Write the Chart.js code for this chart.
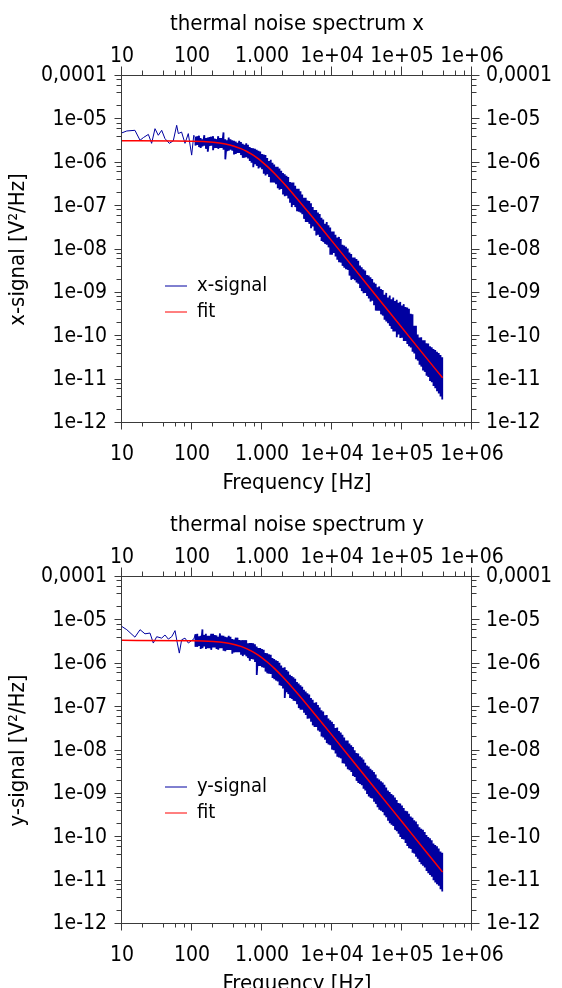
<!DOCTYPE html>
<html>
<head>
<meta charset="utf-8">
<script src="https://cdn.jsdelivr.net/npm/chart.js@4.4.1/dist/chart.umd.min.js"></script>
<style>
  html, body { margin: 0; padding: 0; background: #fff; overflow: hidden; }
  .plot { position: absolute; left: 0; width: 562px; height: 500px; }
</style>
</head>
<body>
<div class="plot" style="top:0"><canvas id="chartX" width="562" height="500"></canvas></div>
<div class="plot" style="top:501px"><canvas id="chartY" width="562" height="500"></canvas></div>
<script>
// axis ticks
const xTickValues = [10, 100, 1000, 1e4, 1e5, 1e6];
const xTickLabels = ['10', '100', '1.000', '1e+04', '1e+05', '1e+06'];
const yTickValues = [1e-12, 1e-11, 1e-10, 1e-9, 1e-8, 1e-7, 1e-6, 1e-5, 1e-4];
const yTickLabels = ['1e-12', '1e-11', '1e-10', '1e-09', '1e-08', '1e-07', '1e-06', '1e-05', '0,0001'];
const minorSteps = [2, 4, 6, 8];

// low frequency part (read point by point)
const xsigLowFreq = [10, 11.7, 15.3, 18.1, 20.2, 23.8, 26.5, 29.6, 33, 36.9, 41.1, 47.4, 54, 60.4, 63.8, 71, 79.4, 88.5, 98.9, 106];
const xsigLow = [4.9e-6, 5.4e-6, 5.6e-6, 3.3e-6, 3.8e-6, 4.5e-6, 2.8e-6, 6.1e-6, 4.3e-6, 5.6e-6, 3.6e-6, 2.8e-6, 3.2e-6, 7.3e-6, 4.7e-6, 5.1e-6, 2.8e-6, 4.7e-6, 1.5e-6, 4.3e-6];
const ysigLowFreq = [10, 11.7, 15.3, 18.1, 21.3, 25.1, 28, 31.3, 36.9, 41.1, 45.9, 51.3, 57.2, 61.7, 65.9, 71.1, 79.4, 88.7, 98.9, 106];
const ysigLow = [7.2e-6, 6.1e-6, 4.1e-6, 6.1e-6, 4.9e-6, 5.1e-6, 3.0e-6, 4.2e-6, 3.9e-6, 4.6e-6, 3.7e-6, 4.2e-6, 5.8e-6, 3.0e-6, 1.76e-6, 3.56e-6, 3.9e-6, 3.0e-6, 3.44e-6, 3.7e-6];

// dense part: max and min of the trace in each frequency bin
const bandFreq = [112, 119, 126, 133, 141, 150, 158, 168, 178, 188, 200, 211, 224, 237, 251, 266, 282, 299, 316, 335,
  355, 376, 398, 422, 447, 473, 501, 531, 562, 596, 631, 668, 708, 750, 794, 841, 891, 944,
  1000, 1059, 1122, 1189, 1259, 1334, 1413, 1496, 1585, 1679, 1778, 1884, 1995, 2113, 2239, 2371, 2512, 2661, 2818, 2985,
  3162, 3350, 3548, 3758, 3981, 4217, 4467, 4732, 5012, 5309, 5623, 5957, 6310, 6683, 7079, 7499, 7943, 8414, 8913, 9441,
  10000, 10590, 11220, 11890, 12590, 13340, 14130, 14960, 15850, 16790, 17780, 18840, 19950, 21130, 22390, 23710, 25120, 26610, 28180, 29850,
  31620, 33500, 35480, 37580, 39810, 42170, 44670, 47320, 50120, 53090, 56230, 59570, 63100, 66830, 70790, 74990, 79430, 84140, 89130, 94410,
  100000, 105900, 112200, 118900, 125900, 133400, 141300, 149600, 158500, 167900, 177800, 188400, 199500, 211300, 223900, 237100,
  251200, 266100, 281800, 298500, 316200, 335000, 354800, 375800];

const xsigHi = [3.9e-6, 4.1e-6, 4.2e-6, 3.7e-6, 3.5e-6, 4.3e-6, 3.7e-6, 3.8e-6, 3.9e-6, 4.0e-6,
  4.1e-6, 3.6e-6, 3.5e-6, 4.1e-6, 3.7e-6, 3.7e-6, 5.0e-6, 3.5e-6, 3.3e-6, 3.8e-6,
  3.5e-6, 3.3e-6, 3.2e-6, 3.1e-6, 2.9e-6, 3.2e-6, 3.0e-6, 2.75e-6, 2.6e-6, 2.8e-6,
  2.6e-6, 2.3e-6, 2.2e-6, 2.15e-6, 2.1e-6, 2.0e-6, 1.9e-6, 1.82e-6, 1.6e-6, 1.55e-6,
  1.5e-6, 1.29e-6, 1.1e-6, 1.17e-6, 1.0e-6, 9.1e-7, 8.1e-7, 8.1e-7, 7.4e-7, 6.5e-7,
  5.8e-7, 5.4e-7, 5.0e-7, 4.7e-7, 3.6e-7, 3.5e-7, 3.5e-7, 2.95e-7, 2.5e-7, 2.5e-7,
  2.2e-7, 1.86e-7, 1.55e-7, 1.55e-7, 1.35e-7, 1.32e-7, 1.17e-7, 9.5e-8, 8.1e-8, 8.1e-8,
  7.1e-8, 6.6e-8, 5.4e-8, 4.9e-8, 3.9e-8, 4.3e-8, 3.6e-8, 3.2e-8, 2.6e-8, 2.6e-8,
  2.2e-8, 1.9e-8, 1.95e-8, 1.74e-8, 1.29e-8, 1.23e-8, 1.15e-8, 1.05e-8, 8.5e-9, 7.9e-9,
  6.5e-9, 6.5e-9, 6.0e-9, 5.5e-9, 4.3e-9, 3.9e-9, 3.5e-9, 3.3e-9, 2.6e-9, 2.5e-9,
  2.3e-9, 2.1e-9, 1.74e-9, 1.62e-9, 1.35e-9, 1.41e-9, 1.23e-9, 1.17e-9, 9.1e-10, 1.0e-9,
  7.8e-10, 8.7e-10, 7.1e-10, 7.8e-10, 6.5e-10, 6.9e-10, 5.9e-10, 6.2e-10, 5.1e-10, 5.5e-10,
  4.7e-10, 4.6e-10, 4.3e-10, 3.3e-10, 3.2e-10, 1.74e-10, 1.74e-10, 1.1e-10, 9.3e-11, 9.5e-11,
  8.1e-11, 8.1e-11, 6.9e-11, 6.8e-11, 5.9e-11, 5.6e-11, 5.1e-11, 4.8e-11, 4.4e-11, 4.1e-11,
  3.7e-11, 3.3e-11];
const xsigLo = [2.5e-6, 2.6e-6, 2.3e-6, 2.2e-6, 2.4e-6, 2.5e-6, 2.1e-6, 1.8e-6, 2.45e-6, 2.5e-6,
  1.95e-6, 2.2e-6, 2.2e-6, 2.1e-6, 2.2e-6, 2.2e-6, 2.0e-6, 1.2e-6, 1.86e-6, 1.9e-6,
  2.0e-6, 1.9e-6, 1.55e-6, 1.6e-6, 1.7e-6, 1.7e-6, 1.5e-6, 1.3e-6, 1.32e-6, 1.35e-6,
  1.26e-6, 1.1e-6, 1.0e-6, 7.9e-7, 9.3e-7, 8.5e-7, 7.4e-7, 7.8e-7, 7.1e-7, 5.6e-7,
  5.1e-7, 5.5e-7, 4.7e-7, 3.5e-7, 3.5e-7, 3.5e-7, 3.2e-7, 2.6e-7, 2.4e-7, 2.5e-7,
  1.86e-7, 1.7e-7, 1.74e-7, 1.5e-7, 1.2e-7, 9.5e-8, 1.07e-7, 9.5e-8, 7.6e-8, 7.4e-8,
  7.1e-8, 6.5e-8, 5.1e-8, 4.3e-8, 4.3e-8, 3.9e-8, 3.1e-8, 3.4e-8, 2.7e-8, 2.1e-8,
  2.2e-8, 1.95e-8, 1.58e-8, 1.48e-8, 1.35e-8, 1.29e-8, 1.12e-8, 7.6e-9, 7.6e-9, 8.3e-9,
  6.9e-9, 5.8e-9, 5.1e-9, 5.0e-9, 4.2e-9, 3.8e-9, 3.5e-9, 3.4e-9, 2.5e-9, 2.0e-9,
  2.1e-9, 1.95e-9, 1.74e-9, 1.62e-9, 1.29e-9, 1.1e-9, 9.8e-10, 1.0e-9, 8.5e-10, 7.4e-10,
  6.3e-10, 6.6e-10, 5.2e-10, 3.9e-10, 3.9e-10, 3.9e-10, 3.2e-10, 3.0e-10, 2.4e-10, 2.2e-10,
  2.0e-10, 1.74e-10, 1.48e-10, 1.29e-10, 1.29e-10, 9.5e-11, 1.1e-10, 9.1e-11, 9.3e-11, 7.8e-11,
  7.8e-11, 6.6e-11, 5.9e-11, 5.5e-11, 4.4e-11, 4.0e-11, 2.95e-11, 2.75e-11, 2.2e-11, 2.0e-11,
  1.62e-11, 1.51e-11, 1.23e-11, 1.15e-11, 9.3e-12, 8.7e-12, 7.1e-12, 6.3e-12, 5.4e-12, 4.8e-12,
  4.1e-12, 3.5e-12];

const ysigHi = [4.8e-6, 4.9e-6, 4.3e-6, 4.4e-6, 6.2e-6, 4.6e-6, 4.9e-6, 4.4e-6, 4.4e-6, 4.9e-6,
  4.9e-6, 4.6e-6, 4.5e-6, 4.2e-6, 5.0e-6, 4.5e-6, 4.4e-6, 4.2e-6, 4.1e-6, 4.4e-6,
  4.2e-6, 3.7e-6, 3.6e-6, 4.0e-6, 4.0e-6, 3.55e-6, 3.5e-6, 3.5e-6, 3.5e-6, 3.5e-6,
  2.95e-6, 3.0e-6, 3.0e-6, 2.95e-6, 2.8e-6, 2.5e-6, 2.3e-6, 2.3e-6, 2.2e-6, 2.1e-6,
  1.78e-6, 1.74e-6, 1.66e-6, 1.62e-6, 1.35e-6, 1.29e-6, 1.2e-6, 1.15e-6, 1.05e-6, 9.1e-7,
  8.1e-7, 8.3e-7, 7.2e-7, 6.6e-7, 5.6e-7, 5.2e-7, 4.9e-7, 4.5e-7, 3.8e-7, 3.5e-7,
  3.2e-7, 2.95e-7, 2.5e-7, 2.3e-7, 2.1e-7, 1.95e-7, 1.62e-7, 1.48e-7, 1.26e-7, 1.29e-7,
  1.12e-7, 9.8e-8, 8.5e-8, 7.9e-8, 6.5e-8, 6.6e-8, 5.5e-8, 5.0e-8, 4.6e-8, 4.1e-8,
  3.3e-8, 3.4e-8, 2.8e-8, 2.6e-8, 2.3e-8, 2.0e-8, 1.7e-8, 1.7e-8, 1.45e-8, 1.32e-8,
  1.2e-8, 1.02e-8, 8.7e-9, 8.5e-9, 7.4e-9, 6.9e-9, 6.2e-9, 5.2e-9, 4.5e-9, 4.3e-9,
  3.8e-9, 3.5e-9, 3.2e-9, 2.8e-9, 2.3e-9, 2.15e-9, 1.95e-9, 1.82e-9, 1.62e-9, 1.41e-9,
  1.2e-9, 1.1e-9, 1.0e-9, 9.3e-10, 8.3e-10, 7.2e-10, 6.2e-10, 6.0e-10, 5.4e-10, 4.7e-10,
  4.1e-10, 4.0e-10, 3.5e-10, 3.0e-10, 2.8e-10, 2.45e-10, 2.3e-10, 2.0e-10, 1.7e-10, 1.58e-10,
  1.48e-10, 1.32e-10, 1.12e-10, 1.02e-10, 9.5e-11, 8.5e-11, 7.2e-11, 6.6e-11, 6.2e-11, 5.5e-11,
  4.7e-11, 4.4e-11];
const ysigLo = [2.45e-6, 2.45e-6, 2.6e-6, 2.2e-6, 2.3e-6, 2.5e-6, 2.2e-6, 2.3e-6, 2.3e-6, 2.1e-6,
  2.4e-6, 2.4e-6, 2.2e-6, 2.1e-6, 2.3e-6, 2.3e-6, 2.0e-6, 1.95e-6, 2.1e-6, 2.1e-6,
  2.1e-6, 1.7e-6, 1.82e-6, 1.86e-6, 1.86e-6, 1.86e-6, 1.62e-6, 1.5e-6, 1.62e-6, 1.48e-6,
  1.35e-6, 1.17e-6, 1.29e-6, 1.26e-6, 1.1e-6, 5.5e-7, 8.9e-7, 8.9e-7, 8.3e-7, 8.1e-7,
  6.6e-7, 6.0e-7, 5.9e-7, 5.8e-7, 4.7e-7, 4.4e-7, 4.1e-7, 3.9e-7, 3.2e-7, 3.1e-7,
  2.7e-7, 1.62e-7, 2.2e-7, 2.0e-7, 1.62e-7, 1.55e-7, 1.41e-7, 1.38e-7, 1.17e-7, 9.5e-8,
  8.7e-8, 8.7e-8, 7.4e-8, 6.6e-8, 5.4e-8, 5.5e-8, 4.6e-8, 3.8e-8, 3.5e-8, 3.5e-8,
  2.9e-8, 2.7e-8, 2.1e-8, 2.0e-8, 1.78e-8, 1.48e-8, 1.38e-8, 1.32e-8, 1.05e-8, 1.02e-8,
  8.5e-9, 7.2e-9, 6.9e-9, 6.6e-9, 5.1e-9, 5.0e-9, 4.3e-9, 3.7e-9, 3.5e-9, 3.2e-9,
  2.6e-9, 2.45e-9, 2.0e-9, 1.78e-9, 1.7e-9, 1.58e-9, 1.32e-9, 1.2e-9, 1.0e-9, 8.7e-10,
  8.1e-10, 7.8e-10, 6.6e-10, 5.9e-10, 4.9e-10, 4.3e-10, 4.1e-10, 3.8e-10, 3.2e-10, 2.9e-10,
  2.4e-10, 2.1e-10, 1.95e-10, 1.82e-10, 1.48e-10, 1.38e-10, 1.2e-10, 1.02e-10, 9.1e-11, 8.9e-11,
  7.4e-11, 6.3e-11, 5.6e-11, 5.4e-11, 4.4e-11, 4.2e-11, 3.55e-11, 3.2e-11, 2.7e-11, 2.4e-11,
  2.2e-11, 2.0e-11, 1.66e-11, 1.48e-11, 1.35e-11, 1.23e-11, 1.02e-11, 9.1e-12, 8.3e-12, 7.6e-12,
  6.3e-12, 5.6e-12];

// fitted curves
const fitFreq = [10, 100, 200, 300, 400, 500, 600, 700, 850, 1000, 1200, 1500, 2000, 3000, 5000, 7000, 1e4, 2e4, 5e4, 1e5, 2e5, 3.8e5];
const xsigFit = [3.2e-6, 3.14e-6, 2.96e-6, 2.70e-6, 2.41e-6, 2.12e-6, 1.84e-6, 1.60e-6, 1.29e-6, 1.05e-6, 8.12e-7, 5.72e-7, 3.49e-7, 1.65e-7, 6.15e-8, 3.17e-8, 1.56e-8, 3.92e-9, 6.27e-10, 1.57e-10, 3.92e-11, 1.1e-11];
const ysigFit = [3.46e-6, 3.41e-6, 3.26e-6, 3.04e-6, 2.78e-6, 2.51e-6, 2.23e-6, 1.98e-6, 1.65e-6, 1.37e-6, 1.08e-6, 7.81e-7, 4.87e-7, 2.35e-7, 8.85e-8, 4.57e-8, 2.26e-8, 5.67e-9, 9.08e-10, 2.27e-10, 5.68e-11, 1.57e-11];

const FONT = "'DejaVu Sans Condensed', 'DejaVu Sans', sans-serif";
const NAVY = '#0000a0';
Chart.defaults.font.family = FONT;
Chart.defaults.color = '#000';

const toPoints = (fs, vs) => fs.map((f, i) => ({ x: f, y: vs[i] }));
// max then min at every bin, the way a min/max decimated trace is drawn
const toMinMax = (fs, hi, lo) => fs.flatMap((f, i) => [{ x: f, y: hi[i] }, { x: f, y: lo[i] }]);

// frame + tick marks like the original plot
const frame = {
  id: 'frame',
  afterDraw(chart) {
    const { ctx, chartArea: a, scales } = chart;
    const L = Math.round(a.left) - 0.5, R = Math.round(a.right) - 0.5;
    const T = Math.round(a.top) - 0.5, B = Math.round(a.bottom) - 0.5;
    ctx.save();
    ctx.strokeStyle = '#3a3a3a';
    ctx.lineWidth = 1;
    ctx.strokeRect(L, T, R - L, B - T);
    ctx.beginPath();
    const marks = (scale, vals, fn, major, minor) => {
      vals.forEach((v, i) => {
        fn(Math.round(scale.getPixelForValue(v)) - 0.5, major);
        if (i < vals.length - 1) minorSteps.forEach(m => fn(Math.round(scale.getPixelForValue(v * m)) - 0.5, minor));
      });
    };
    marks(scales.x, xTickValues, (p, n) => { ctx.moveTo(p, B); ctx.lineTo(p, B + n); }, 7, 4);
    marks(scales.x2, xTickValues, (p, n) => { ctx.moveTo(p, T); ctx.lineTo(p, T - n); }, 9, 5);
    marks(scales.y, yTickValues, (p, n) => { ctx.moveTo(L, p); ctx.lineTo(L - n, p); }, 7, 5);
    marks(scales.y2, yTickValues, (p, n) => { ctx.moveTo(R, p); ctx.lineTo(R + n, p); }, 8, 5);
    ctx.stroke();
    ctx.restore();
  }
};

// small legend inside the plot
const inLegend = {
  id: 'inLegend',
  afterDraw(chart) {
    const { ctx, chartArea: a } = chart;
    ctx.save();
    ctx.font = '20px ' + FONT;
    ctx.textBaseline = 'middle';
    chart.data.datasets.filter(ds => ds.label).forEach((ds, i) => {
      const y = a.top + 210 + i * 26;
      ctx.strokeStyle = ds.borderColor;
      ctx.lineWidth = 1;
      ctx.beginPath();
      ctx.moveTo(a.left + 43, y);
      ctx.lineTo(a.left + 65, y);
      ctx.stroke();
      ctx.fillStyle = '#000';
      ctx.fillText(ds.label, a.left + 75, y);
    });
    ctx.restore();
  }
};

function xAxis(pos, text) {
  const top = pos === 'top';
  return {
    type: 'logarithmic', position: pos, min: 10, max: 1e6,
    afterBuildTicks: s => { s.ticks = xTickValues.map(v => ({ value: v })); },
    afterFit: s => { s.height = top ? 76 : 77; },
    grid: { display: false, drawTicks: false },
    border: { display: false },
    ticks: { autoSkip: false, maxRotation: 0, minRotation: 0, padding: top ? 7 : 19, font: { size: 21 },
      callback: (v, i) => xTickLabels[i] },
    title: { display: true, text: text, font: { size: 22 }, padding: top ? { top: 11, bottom: 0 } : { top: 0, bottom: 4 } }
  };
}

function yAxis(pos, text) {
  const left = pos === 'left';
  return {
    type: 'logarithmic', position: pos, min: 1e-12, max: 1e-4,
    afterBuildTicks: s => { s.ticks = yTickValues.map(v => ({ value: v })); },
    afterFit: s => { s.width = left ? 122 : 90; },
    grid: { display: false, drawTicks: false },
    border: { display: false },
    ticks: { autoSkip: false, padding: left ? 15 : 14, font: { size: 21 },
      callback: (v, i) => yTickLabels[i] },
    title: { display: left, text: text, font: { size: 22 }, padding: { top: 5, bottom: 0 } }
  };
}

function makeChart(id, title, name, lowFreq, lowVals, hi, lo, fitVals) {
  const sparse = toPoints(lowFreq.concat(bandFreq[0]), lowVals.concat(hi[0]));
  const dense = toMinMax(bandFreq, hi, lo);
  return new Chart(document.getElementById(id), {
    type: 'line',
    data: {
      datasets: [
        { label: name, data: sparse, borderColor: NAVY, borderWidth: 1, pointRadius: 0, order: 1 },
        { label: 'fit', data: toPoints(fitFreq, fitVals), borderColor: '#ff0000', borderWidth: 1.5, pointRadius: 0,
          cubicInterpolationMode: 'monotone', order: 0 },
        { label: '', data: dense, borderColor: NAVY, borderWidth: 1.8, borderJoinStyle: 'bevel', pointRadius: 0, order: 2 }
      ]
    },
    options: {
      responsive: false,
      animation: false,
      events: [],
      layout: { padding: 0, autoPadding: false },
      plugins: { legend: { display: false }, tooltip: { enabled: false } },
      scales: {
        x: xAxis('bottom', 'Frequency [Hz]'),
        x2: xAxis('top', title),
        y: yAxis('left', name + ' [V²/Hz]'),
        y2: yAxis('right', '')
      }
    },
    plugins: [frame, inLegend]
  });
}

makeChart('chartX', 'thermal noise spectrum x', 'x-signal', xsigLowFreq, xsigLow, xsigHi, xsigLo, xsigFit);
makeChart('chartY', 'thermal noise spectrum y', 'y-signal', ysigLowFreq, ysigLow, ysigHi, ysigLo, ysigFit);
</script>
</body>
</html>
